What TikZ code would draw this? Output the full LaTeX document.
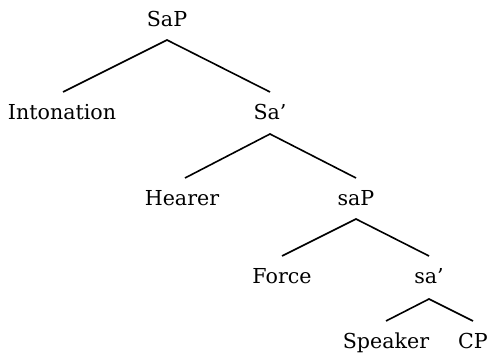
\documentclass[tikz,border=0pt]{standalone}
\usepackage{fontspec}
\setmainfont{DejaVu Serif}
\begin{document}
\begin{tikzpicture}[x=1pt,y=1pt,
  lbl/.style={anchor=base,inner sep=0pt,font=\fontsize{20.6}{24}\selectfont},
  edge/.style={line width=1.6pt}]
\useasboundingbox (0,0) rectangle (487,353);
\node[lbl] (sap) at (167,326) {SaP};
\node[lbl] (inton) at (62,233) {Intonation};
\node[lbl] (sabar) at (270,233) {Sa’};
\node[lbl] (hearer) at (182,147) {Hearer};
\node[lbl] (sasmall) at (356,147) {saP};
\node[lbl] (force) at (282,69) {Force};
\node[lbl] (sabarsmall) at (429,69) {sa’};
\node[lbl] (speaker) at (386,4) {Speaker};
\node[lbl] (cp) at (473,4) {CP};
\draw[edge] ([xshift=1pt,yshift=28pt]inton.base) -- ([yshift=-13pt]sap.base) -- ([yshift=28pt]sabar.base);
\draw[edge] ([xshift=3pt,yshift=28pt]hearer.base) -- ([yshift=-14pt]sabar.base) -- ([yshift=28pt]sasmall.base);
\draw[edge] ([yshift=28pt]force.base) -- ([yshift=-13pt]sasmall.base) -- ([yshift=28pt]sabarsmall.base);
\draw[edge] ([yshift=28pt]speaker.base) -- ([yshift=-15pt]sabarsmall.base) -- ([yshift=28pt]cp.base);
\end{tikzpicture}
\end{document}
